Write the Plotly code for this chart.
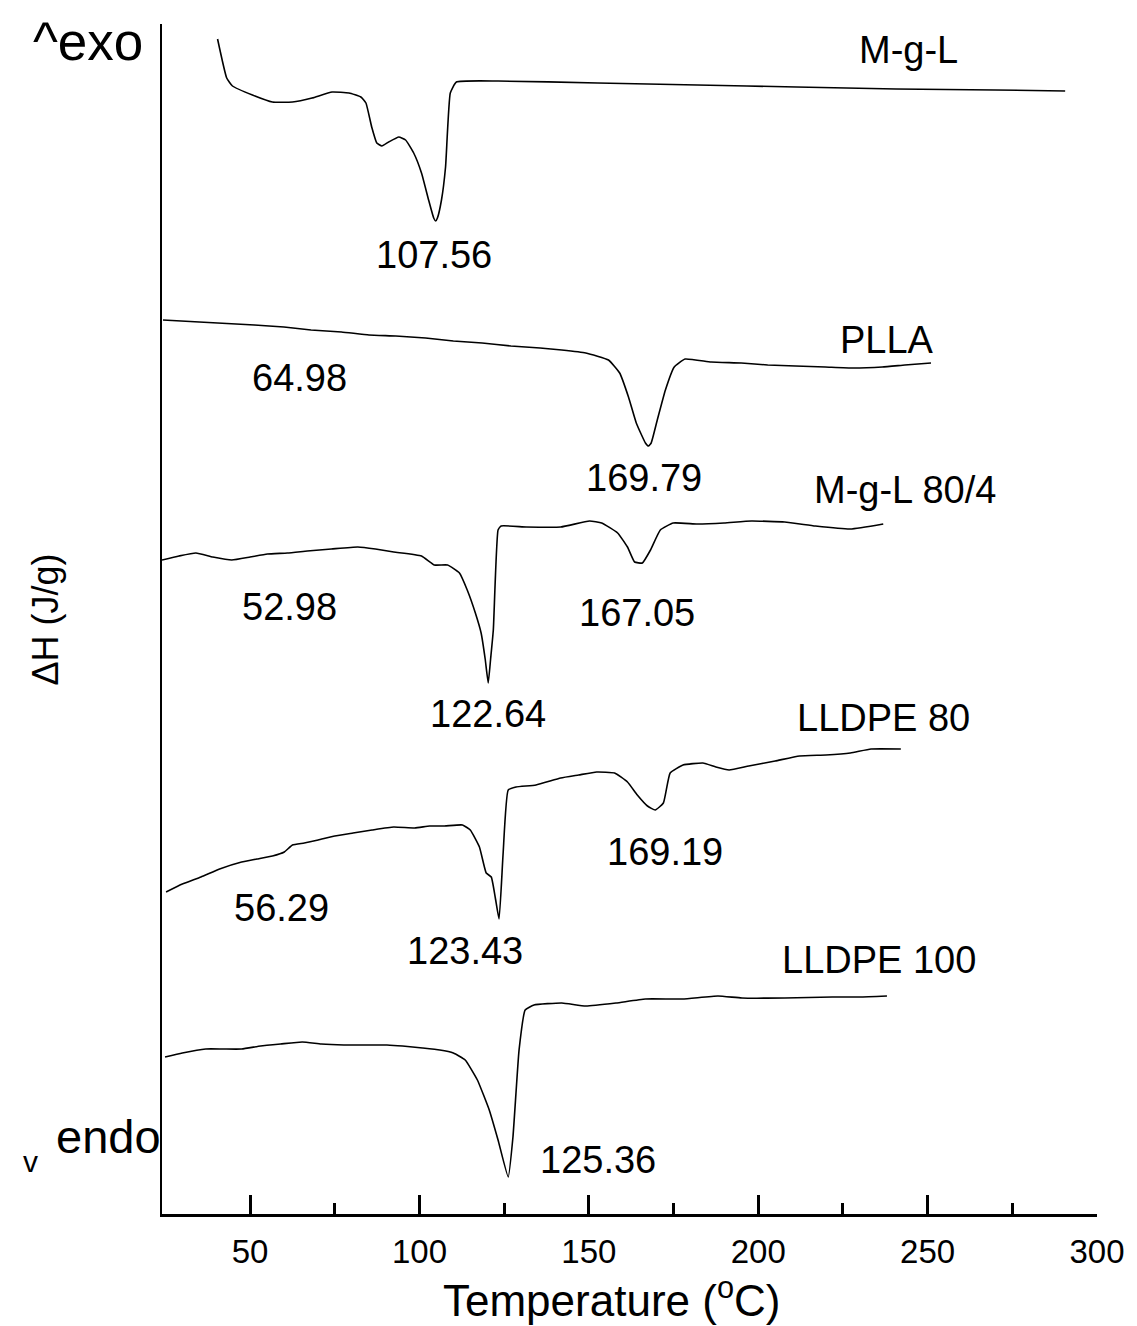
import plotly.graph_objects as go

# ---- Data (temperature in °C, heat flow in arbitrary offset units) ----
mgl_T = [40.4, 43.1, 44.8, 50.7, 56.6, 62.5, 68.3, 74.2, 79.2, 82.7, 84.2, 85.9, 87.4, 88.9, 90.9,
         93.9, 95.9, 98.3, 100.6, 102.7, 104.2, 104.8, 105.3, 106.5, 107.7, 109.1, 110.9, 123.2,
         152.6, 182.0, 211.3, 240.7, 270.0, 290.6]
mgl_H = [1175, 1136, 1128, 1119, 1112, 1112, 1116, 1122, 1121, 1117, 1111, 1087, 1071, 1068, 1072,
         1077, 1074, 1061, 1041, 1014, 996, 993, 996, 1014, 1047, 1121, 1132, 1133,
         1131, 1129, 1127, 1125, 1124, 1123]

plla_T = [24.3, 35.0, 51.3, 60.0, 68.0, 77.0, 85.1, 93.0, 101.8, 110.0, 118.5, 127.0, 135.6, 142.0, 149.1,
          155.8, 159.1, 161.7, 164.0, 166.7, 167.6, 168.4, 170.2, 172.6, 175.2, 178.4, 186.1, 195.0,
          202.8, 211.0, 219.8, 228.0, 236.6, 243.3, 251.0]
plla_H = [894, 892, 889, 887, 884, 882, 879, 878, 876, 873, 871, 868, 866, 864, 861,
          854, 841, 817, 791, 771, 768, 771, 794, 824, 847, 855, 852, 851,
          849, 848, 847, 846, 847, 849, 851]

m804_T = [24.0, 29.0, 34.0, 39.0, 44.6, 50.0, 55.1, 61.0, 66.9, 74.0, 81.8, 87.0, 92.4, 100.6, 104.4,
          108.3, 111.8, 114.1, 116.5, 118.2, 119.4, 120.3, 121.0, 121.8, 123.2, 124.1, 131.5, 141.7,
          150.2, 153.8, 158.5, 161.4, 163.5, 165.8, 168.2, 171.1, 174.9, 182.0, 189.9, 198.0, 207.8,
          216.9, 227.2, 236.9]
m804_H = [654, 658, 661, 657, 654, 657, 660, 661, 663, 665, 667, 665, 662, 658, 649,
          649, 641, 624, 601, 581, 555, 531, 555, 584, 684, 688, 687, 687,
          693, 691, 681, 667, 652, 651, 664, 684, 691, 690, 691, 693, 692,
          688, 685, 690]

l80_T = [25.2, 30.0, 35.5, 41.0, 47.5, 52.0, 56.6, 60.1, 62.5, 66.0, 70.1, 75.0, 80.4, 86.0, 92.4,
         98.6, 103.0, 107.4, 112.7, 115.0, 117.7, 119.7, 121.2, 122.4, 123.5, 124.7, 126.2, 128.5,
         134.4, 141.7, 147.0, 152.3, 157.6, 161.4, 164.3, 167.3, 169.6, 172.0, 174.0, 177.8, 183.7,
         187.5, 191.4, 197.2, 205.0, 212.2, 220.0, 227.2, 233.3, 242.1]
l80_H = [322, 330, 337, 345, 352, 355, 358, 362, 369, 371, 374, 378, 381, 384, 387,
         386, 388, 388, 389, 384, 367, 341, 337, 316, 295, 361, 424, 427,
         429, 436, 439, 442, 441, 432, 419, 408, 404, 411, 441, 449, 451,
         447, 444, 448, 453, 458, 459, 461, 465, 465]

l100_T = [24.9, 30.0, 36.9, 42.0, 47.5, 53.1, 59.0, 65.4, 71.0, 77.7, 84.0, 90.4, 95.0, 100.9, 106.0,
          110.0, 113.5, 117.1, 120.6, 123.2, 126.2, 127.6, 129.4, 131.2, 133.8, 142.0, 149.1, 158.0,
          166.7, 177.6, 188.1, 195.2, 207.8, 221.9, 230.0, 238.0]
l100_H = [157, 161, 165, 165, 165, 168, 170, 172, 170, 169, 169, 169, 168, 166, 164,
          161, 154, 134, 104, 74, 37, 77, 164, 204, 209, 211, 208, 211,
          215, 215, 218, 216, 216, 217, 217, 218]

series = [("M-g-L", mgl_T, mgl_H), ("PLLA", plla_T, plla_H), ("M-g-L 80/4", m804_T, m804_H),
          ("LLDPE 80", l80_T, l80_H), ("LLDPE 100", l100_T, l100_H)]

# curve labels and peak temperature labels (text, T, H)
curve_labels = [("M-g-L", 244.5, 1164), ("PLLA", 238.0, 874), ("M-g-L 80/4", 243.3, 724),
                ("LLDPE 80", 236.9, 496), ("LLDPE 100", 235.7, 254)]
peak_labels = [("107.56", 104.2, 959), ("64.98", 64.5, 836), ("169.79", 166.4, 736),
               ("52.98", 61.6, 607), ("167.05", 164.3, 601), ("122.64", 120.3, 500),
               ("169.19", 172.6, 362), ("56.29", 59.2, 306), ("123.43", 113.5, 263),
               ("125.36", 152.6, 54)]

x_ticks = [50, 100, 150, 200, 250, 300]
x_minor = [75, 125, 175, 225, 275]

FONT = "Liberation Sans, Arial, sans-serif"

fig = go.Figure()
for name, T, H in series:
    fig.add_trace(go.Scatter(x=T, y=H, mode="lines", name=name,
                             line=dict(color="black", width=1.6, shape="spline", smoothing=0.4),
                             showlegend=False))

anns = []
for txt, x, y in curve_labels + peak_labels:
    anns.append(dict(x=x, y=y, text=txt, showarrow=False, xref="x", yref="y",
                     font=dict(family=FONT, size=38, color="black"),
                     xanchor="center", yanchor="middle"))

def paper_text(txt, x, y, size, angle=0):
    return dict(x=x, y=y, text=txt, showarrow=False, xref="paper", yref="paper", textangle=angle,
                font=dict(family=FONT, size=size, color="black"), xanchor="center", yanchor="middle")

anns.append(paper_text("^exo", -0.0787, 0.985, 53))
anns.append(paper_text("endo", -0.0574, 0.0655, 47))
anns.append(paper_text("v", -0.1404, 0.0437, 30))
anns.append(paper_text("ΔH (J/g)", -0.1245, 0.4992, 36, -90))
anns.append(paper_text("Temperature (<sup>o</sup>C)", 0.4805, -0.0705, 44))

fig.update_layout(
    width=1137, height=1326,
    margin=dict(l=162, r=35, t=24, b=112),
    paper_bgcolor="white", plot_bgcolor="white",
    annotations=anns,
    xaxis=dict(range=[24, 300], tickmode="array", tickvals=x_ticks, ticktext=[str(v) for v in x_ticks],
               ticks="inside", ticklen=19, tickwidth=2.5, tickcolor="black",
               minor=dict(ticks="inside", ticklen=11, tickwidth=2.5, tickcolor="black",
                          tickvals=x_minor),
               showline=True, linecolor="black", linewidth=3,
               showgrid=False, zeroline=False, ticklabelstandoff=6,
               tickfont=dict(family=FONT, size=33, color="black")),
    yaxis=dict(range=[0, 1190], showline=True, linecolor="black", linewidth=2,
               showticklabels=False, ticks="", showgrid=False, zeroline=False),
)

fig.write_html("out.html")
